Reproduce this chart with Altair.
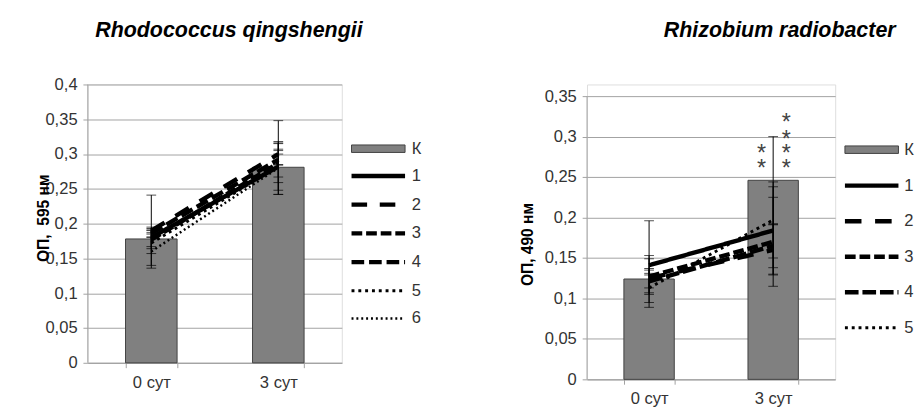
import altair as alt
import pandas as pd

periods = ["0 сут", "3 сут"]

# --- Rhodococcus qingshengii (ОП, 595 нм) ---
rq_bar = [0.178, 0.281]
rq_bar_lo = [0.136, 0.242]
rq_bar_hi = [0.241, 0.348]
rq_series = ["1", "2", "3", "4", "5", "6"]
rq_day0 = [0.180, 0.190, 0.177, 0.186, 0.172, 0.160]
rq_day3 = [0.282, 0.300, 0.287, 0.292, 0.282, 0.280]
rq_err0 = [0.013, 0.005, 0.013, 0.005, 0.015, 0.020]
rq_err3 = [0.023, 0.015, 0.020, 0.008, 0.034, 0.038]
rq_ticks = [0, 0.05, 0.1, 0.15, 0.2, 0.25, 0.3, 0.35, 0.4]

# --- Rhizobium radiobacter (ОП, 490 нм) ---
rr_bar = [0.124, 0.246]
rr_bar_lo = [0.089, 0.192]
rr_bar_hi = [0.196, 0.300]
rr_series = ["1", "2", "3", "4", "5"]
rr_day0 = [0.141, 0.125, 0.127, 0.121, 0.113]
rr_day3 = [0.184, 0.160, 0.170, 0.165, 0.197]
rr_err0 = [0.012, 0.012, 0.022, 0.014, 0.018]
rr_err3 = [0.054, 0.031, 0.055, 0.027, 0.047]
rr_ticks = [0, 0.05, 0.1, 0.15, 0.2, 0.25, 0.3, 0.35]
rr_star_left = [0.284, 0.266]
rr_star_right = [0.322, 0.301, 0.284, 0.266]

FONT = "Liberation Sans"
GRID = "#a0a0a0"
TXT = "#333333"


def panel(title, title_dx, title_off, ytitle, ytitle_x, ytitle_y, ymax, ticks,
          width, height, bar_vals, bar_lo, bar_hi, series, d0, d3, e0, e3,
          dashes, widths, legx, lab_off, leg_k_y, leg_l_y, row_pad, stars=None):
    bars_df = pd.DataFrame({"period": periods, "value": bar_vals, "key": ["К", "К"]})
    bar_err_df = pd.DataFrame({"period": periods, "lo": bar_lo, "hi": bar_hi})
    rows = []
    for i, s in enumerate(series):
        rows.append({"series": s, "period": periods[0], "value": d0[i], "lo": d0[i] - e0[i], "hi": d0[i] + e0[i]})
        rows.append({"series": s, "period": periods[1], "value": d3[i], "lo": d3[i] - e3[i], "hi": d3[i] + e3[i]})
    lines_df = pd.DataFrame(rows)
    err_df = pd.concat([bar_err_df, lines_df[["period", "lo", "hi"]]], ignore_index=True)
    caps_df = pd.concat([
        err_df[["period", "lo"]].rename(columns={"lo": "cap"}),
        err_df[["period", "hi"]].rename(columns={"hi": "cap"}),
    ], ignore_index=True)
    axis_df = pd.DataFrame({"lo": [ticks[0]], "hi": [ticks[-1]]})

    pin = 0.594
    xscale = alt.Scale(domain=periods, paddingInner=pin, paddingOuter=pin / 2)
    xaxis = alt.Axis(title=None, labelAngle=0, tickBand="extent", grid=False,
                     labelFontSize=17, labelColor=TXT, labelFont=FONT, labelPadding=7,
                     domainColor=GRID, tickColor=GRID, tickSize=5)
    yscale = alt.Scale(domain=[0, ymax], nice=False, zero=True)
    yaxis = alt.Axis(title=ytitle, values=ticks, domain=False,
                     labelExpr="replace(format(datum.value, '.2~f'), '.', ',')",
                     labelFontSize=17, labelColor=TXT, labelFont=FONT, labelPadding=6,
                     gridColor=GRID, tickColor=GRID, tickSize=5,
                     titleFont=FONT, titleFontSize=16, titleFontWeight="bold", titleColor="black",
                     titleAngle=-90, titleBaseline="middle", titleX=ytitle_x, titleY=ytitle_y)
    X = alt.X("period:N", sort=periods, scale=xscale, axis=xaxis)

    k_leg = alt.Legend(orient="none", legendX=legx, legendY=leg_k_y, title=None,
                       symbolType="M-5,-0.7H5V0.7H-5Z", symbolSize=121,
                       symbolStrokeColor="#404040", symbolStrokeWidth=1,
                       labelFontSize=17, labelFont=FONT, labelColor=TXT, labelOffset=lab_off, padding=0)
    l_leg = alt.Legend(orient="none", legendX=legx, legendY=leg_l_y, title=None,
                       symbolType="M-5,0H5", symbolSize=121, symbolStrokeColor="black",
                       labelFontSize=17, labelFont=FONT, labelColor=TXT, labelOffset=lab_off,
                       rowPadding=row_pad, padding=0)

    bars = alt.Chart(bars_df).mark_bar(stroke="#404040", strokeWidth=1).encode(
        x=X,
        y=alt.Y("value:Q", scale=yscale, axis=yaxis),
        fill=alt.Fill("key:N", scale=alt.Scale(domain=["К"], range=["#808080"]), legend=k_leg),
    )
    yline = alt.Chart(axis_df).mark_rule(color=GRID, strokeWidth=1).encode(
        x=alt.value(0), y=alt.Y("lo:Q", scale=yscale, axis=yaxis), y2="hi:Q")
    rules = alt.Chart(err_df).mark_rule(color="black", strokeWidth=1).encode(
        x=X, y=alt.Y("lo:Q", scale=yscale, axis=yaxis), y2="hi:Q")
    caps = alt.Chart(caps_df).mark_tick(color="black", thickness=1, size=10, orient="horizontal").encode(
        x=X, y=alt.Y("cap:Q", scale=yscale, axis=yaxis))
    lines = alt.Chart(lines_df).mark_line(color="black", strokeCap="butt").encode(
        x=X,
        y=alt.Y("value:Q", scale=yscale, axis=yaxis),
        strokeDash=alt.StrokeDash("series:N", scale=alt.Scale(domain=series, range=dashes), legend=l_leg),
        strokeWidth=alt.StrokeWidth("series:N", scale=alt.Scale(type="ordinal", domain=series, range=widths), legend=l_leg),
    )
    layers = [bars, yline, lines, rules, caps]
    if stars is not None:
        sl, sr = stars
        sl_df = pd.DataFrame({"period": [periods[1]] * len(sl), "value": sl})
        sr_df = pd.DataFrame({"period": [periods[1]] * len(sr), "value": sr})
        for df, dx in ((sl_df, -12), (sr_df, 13.5)):
            layers.append(alt.Chart(df).mark_text(text="*", fontSize=24, font=FONT, color="#444444",
                                                  dx=dx, dy=12, baseline="alphabetic").encode(
                x=X, y=alt.Y("value:Q", scale=yscale, axis=yaxis)))
    return alt.layer(*layers).properties(
        width=width, height=height,
        title=alt.TitleParams(title, fontSize=22, font=FONT, fontStyle="italic", fontWeight="bold",
                              color="black", anchor="middle", frame="group", dx=title_dx,
                              offset=title_off, baseline="alphabetic"),
    )


left = panel("Rhodococcus qingshengii", 14.5, 18, "ОП,\u00a0 595 нм", -45, 137, 0.4, rq_ticks,
             261, 286, rq_bar, rq_bar_lo, rq_bar_hi, rq_series, rq_day0, rq_day3, rq_err0, rq_err3,
             [[1, 0], [16, 13], [11, 4], [13, 5], [3, 4], [2, 3]], [4.5, 4.5, 4.5, 4.5, 3, 2.5],
             290, 26, 57.5, 85.5, 10.5)
right = panel("Rhizobium radiobacter", 70.5, 27, "ОП, 490 нм", -61, 164, 0.35 * 303 / 291, rr_ticks,
              255, 303, rr_bar, rr_bar_lo, rr_bar_hi, rr_series, rr_day0, rr_day3, rr_err0, rr_err3,
              [[1, 0], [17, 14], [11, 4], [14, 4], [3, 4]], [4.5, 4.5, 4.5, 4.5, 3],
              284, 25, 58.5, 95.5, 17.5, stars=(rr_star_left, rr_star_right))

chart = alt.hconcat(left, right, spacing=99).resolve_scale(
    x="independent", y="independent", fill="independent",
    strokeDash="independent", strokeWidth="independent",
).resolve_legend(fill="independent", strokeDash="independent", strokeWidth="independent").properties(
    padding={"left": 28, "top": 5, "right": 0, "bottom": 0}, background="white",
).configure_view(strokeWidth=0).configure(font=FONT)

chart.save("out.html", embed_options={"renderer": "svg", "actions": False})
